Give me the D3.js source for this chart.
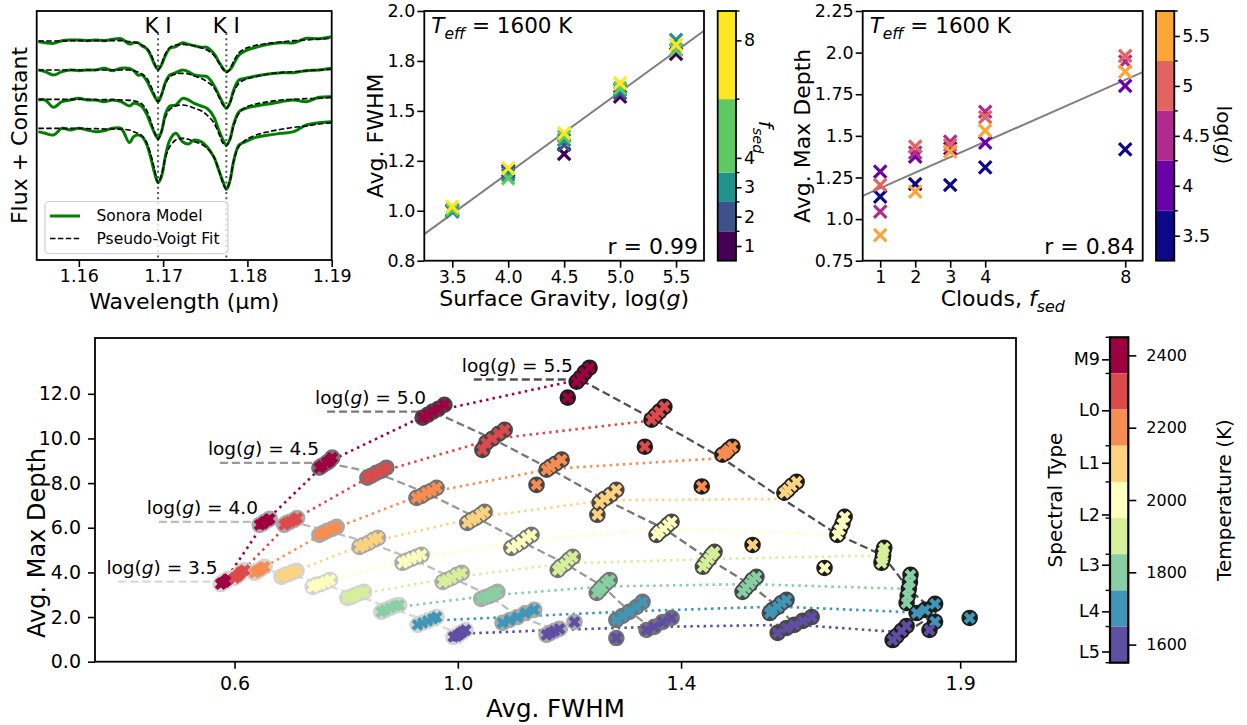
<!DOCTYPE html>
<html><head><meta charset="utf-8">
<script src="https://cdn.jsdelivr.net/npm/d3@7/dist/d3.min.js"></script>
<style>
html,body{margin:0;padding:0;background:#fff;}
svg text{font-family:"DejaVu Sans",sans-serif;}
</style></head>
<body>
<svg id="chart" width="1247" height="725" xmlns="http://www.w3.org/2000/svg"></svg>
<script>
// ================= DATA =================
// Panel A: K I doublet spectra (flux + constant)
const wave = [1.1552,1.1560,1.1570,1.1580,1.1590,1.1600,1.1610,1.1620,1.1630,1.1640,1.1650,1.1660,1.1665,1.1670,1.1675,1.1680,1.1685,1.1690,1.1694,1.1698,1.1703,1.1708,1.1715,1.1723,1.1730,1.1737,1.1745,1.1752,1.1760,1.1766,1.1771,1.1775,1.1779,1.1784,1.1790,1.1798,1.1810,1.1825,1.1840,1.1855,1.1870,1.1885,1.1900];
const model1 = [6.55,6.52,6.50,6.58,6.60,6.60,6.58,6.60,6.58,6.62,6.64,6.48,6.52,6.52,6.42,6.35,6.15,5.85,5.72,5.85,6.15,6.35,6.40,6.52,6.47,6.43,6.38,6.38,6.20,5.95,5.75,5.65,5.70,5.90,6.15,6.28,6.38,6.47,6.52,6.52,6.65,6.64,6.70];
const fit1   = [6.57,6.57,6.57,6.57,6.58,6.58,6.58,6.58,6.58,6.58,6.58,6.55,6.53,6.50,6.45,6.38,6.20,5.90,5.70,5.88,6.20,6.38,6.45,6.47,6.45,6.42,6.37,6.30,6.15,5.92,5.72,5.62,5.72,5.98,6.22,6.35,6.44,6.50,6.54,6.58,6.60,6.63,6.65];
const model2 = [5.70,5.65,5.55,5.65,5.70,5.68,5.70,5.70,5.75,5.68,5.75,5.75,5.68,5.55,5.55,5.40,5.15,4.90,4.75,4.95,5.35,5.55,5.62,5.70,5.65,5.55,5.52,5.50,5.25,4.95,4.70,4.55,4.70,5.12,5.40,5.45,5.52,5.58,5.62,5.62,5.68,5.70,5.75];
const fit2   = [5.70,5.70,5.70,5.70,5.70,5.70,5.70,5.70,5.70,5.70,5.70,5.70,5.68,5.64,5.58,5.48,5.25,4.95,4.75,4.95,5.30,5.50,5.58,5.60,5.58,5.52,5.45,5.35,5.18,4.90,4.65,4.55,4.70,5.05,5.30,5.42,5.50,5.58,5.62,5.65,5.68,5.70,5.72];
const model3 = [4.80,4.80,4.58,4.75,4.80,4.85,4.80,4.80,4.75,4.80,4.75,4.62,4.70,4.68,4.60,4.40,4.10,3.80,3.65,3.85,4.40,4.62,4.65,4.85,4.80,4.70,4.62,4.55,4.30,3.90,3.60,3.45,3.60,4.10,4.45,4.55,4.62,4.68,4.75,4.80,4.75,4.88,4.90];
const fit3   = [4.82,4.82,4.82,4.82,4.82,4.82,4.82,4.81,4.81,4.81,4.80,4.79,4.78,4.75,4.68,4.52,4.20,3.80,3.62,3.85,4.30,4.52,4.62,4.65,4.62,4.55,4.48,4.35,4.12,3.80,3.50,3.42,3.60,4.05,4.40,4.58,4.68,4.75,4.80,4.82,4.84,4.85,4.88];
const model4 = [3.85,3.80,3.75,3.95,3.90,3.95,3.90,3.85,3.88,3.95,3.95,3.52,3.70,3.75,3.70,3.50,3.10,2.60,2.32,2.50,3.15,3.60,3.80,3.55,3.48,3.60,3.55,3.40,3.10,2.70,2.35,2.12,2.35,3.00,3.45,3.55,3.68,3.75,3.80,3.85,4.05,4.12,4.15];
const fit4   = [3.95,3.95,3.95,3.95,3.95,3.95,3.94,3.94,3.93,3.93,3.92,3.90,3.85,3.80,3.72,3.55,3.20,2.70,2.32,2.55,3.10,3.40,3.60,3.65,3.62,3.55,3.48,3.35,3.10,2.70,2.30,2.12,2.35,3.00,3.40,3.60,3.75,3.85,3.92,3.98,4.02,4.08,4.12];
const kLines = [1.1694, 1.1775];
const kLabel = "K I";
const wavTicks = [1.16, 1.17, 1.18, 1.19];
const legendLabels = ["Sonora Model", "Pseudo-Voigt Fit"];

// Panel B: Avg FWHM vs log(g), coloured by fsed (Teff = 1600 K)
const loggB = [3.5, 4.0, 4.5, 5.0, 5.5];
const fsedVals = [1, 2, 3, 4, 8];
const fwhmB_f1 = [1.040, 1.233, 1.313, 1.588, 1.794];
const fwhmB_f2 = [1.044, 1.223, 1.356, 1.605, 1.813];
const fwhmB_f3 = [1.036, 1.212, 1.380, 1.621, 1.861];
const fwhmB_f4 = [1.047, 1.196, 1.396, 1.629, 1.813];
const fwhmB_f8 = [1.060, 1.244, 1.413, 1.653, 1.837];
const yTicksB = [0.8, 1.04, 1.28, 1.52, 1.76, 2.0];
const yTickLabelsB = ["0.8", "1.0", "1.2", "1.5", "1.8", "2.0"];
const fsedBounds = [0.5, 1.5, 2.5, 3.5, 6, 9];

// Panel C: Avg Max Depth vs fsed, coloured by log(g) (Teff = 1600 K)
const loggC = [3.5, 4.0, 4.5, 5.0, 5.5];
const depthC_g35 = [1.135, 1.211, 1.205, 1.311, 1.419];
const depthC_g40 = [1.285, 1.375, 1.425, 1.459, 1.800];
const depthC_g45 = [1.045, 1.399, 1.465, 1.645, 1.946];
const depthC_g50 = [1.205, 1.435, 1.445, 1.612, 1.980];
const depthC_g55 = [0.904, 1.165, 1.405, 1.531, 1.886];
const yTicksC = [0.75, 1.0, 1.25, 1.5, 1.75, 2.0, 2.25];
const yTickLabelsC = ["0.75", "1.0", "1.25", "1.5", "1.75", "2.0", "2.25"];
const loggTickLabelsC = ["3.5", "4", "4.5", "5", "5.5"];
const loggBounds = [3.25, 3.75, 4.25, 4.75, 5.25, 5.75];

// Panel D: Avg Max Depth vs Avg FWHM; rows = Teff (2400..1600), cols = fsed (1,2,3,4,8)
const temps = [2400, 2300, 2200, 2100, 2000, 1900, 1800, 1700, 1600];
const loggD = [3.5, 4.0, 4.5, 5.0, 5.5];
const fwhm_g35 = [
 [0.575,0.578,0.582,0.586,0.589],[0.600,0.605,0.609,0.612,0.618],[0.636,0.641,0.645,0.650,0.654],
 [0.684,0.691,0.698,0.705,0.711],[0.740,0.747,0.754,0.763,0.771],[0.802,0.809,0.816,0.825,0.832],
 [0.863,0.870,0.879,0.888,0.895],[0.928,0.937,0.946,0.955,0.962],[0.992,0.998,1.003,1.008,1.014]];
const depth_g35 = [
 [3.48,3.53,3.57,3.66,3.71],[3.75,3.84,3.93,4.02,4.11],[3.98,4.07,4.11,4.20,4.25],
 [3.80,3.89,3.93,4.02,4.07],[3.35,3.44,3.48,3.57,3.66],[2.86,2.90,2.99,3.08,3.13],
 [2.23,2.32,2.41,2.50,2.54],[1.65,1.74,1.83,1.92,2.00],[1.11,1.15,1.24,1.33,1.42]];
const fwhm_g40 = [
 [0.645,0.650,0.654,0.660,0.663],[0.689,0.694,0.700,0.707,0.712],[0.752,0.759,0.766,0.775,0.783],
 [0.824,0.831,0.840,0.849,0.857],[0.901,0.908,0.917,0.926,0.935],[0.973,0.980,0.989,0.998,1.007],
 [1.042,1.050,1.057,1.064,1.071],[1.080,1.093,1.107,1.121,1.137],[1.159,1.166,1.173,1.182,1.209]];
const depth_g40 = [
 [6.13,6.18,6.27,6.35,6.40],[6.13,6.22,6.27,6.35,6.44],[5.68,5.77,5.86,5.95,6.04],
 [5.14,5.23,5.32,5.46,5.55],[4.43,4.52,4.61,4.70,4.79],[3.57,3.66,3.75,3.89,3.98],
 [2.81,2.90,2.95,3.04,3.13],[1.74,1.87,2.00,2.18,2.32],[1.20,1.29,1.38,1.47,1.78]];
const fwhm_g45 = [
 [0.752,0.757,0.765,0.770,0.775],[0.838,0.845,0.854,0.863,0.872],[0.926,0.935,0.944,0.953,0.962],
 [1.017,1.025,1.032,1.041,1.048],[1.096,1.105,1.114,1.123,1.132],[1.179,1.184,1.192,1.199,1.206],
 [1.249,1.254,1.259,1.266,1.272],[1.284,1.295,1.307,1.320,1.331],[1.284,1.338,1.352,1.367,1.383]];
const depth_g45 = [
 [8.69,8.78,8.91,9.00,9.14],[8.24,8.33,8.46,8.55,8.69],[7.34,7.43,7.57,7.66,7.79],
 [6.22,6.35,6.44,6.58,6.71],[5.10,5.23,5.37,5.55,5.68],[4.11,4.25,4.38,4.56,4.70],
 [3.08,3.22,3.35,3.53,3.66],[1.87,2.05,2.23,2.45,2.68],[1.06,1.42,1.56,1.78,1.96]];
const fwhm_g50 = [
 [0.937,0.946,0.955,0.965,0.976],[1.044,1.051,1.062,1.073,1.084],[1.141,1.159,1.166,1.175,1.186],
 [1.250,1.254,1.263,1.274,1.284],[1.356,1.361,1.369,1.376,1.383],[1.439,1.444,1.450,1.455,1.460],
 [1.510,1.516,1.523,1.528,1.535],[1.559,1.564,1.573,1.580,1.589],[1.573,1.589,1.603,1.618,1.634]];
const depth_g50 = [
 [10.93,11.06,11.20,11.33,11.51],[9.49,9.81,9.99,10.21,10.39],[7.92,8.60,8.73,8.87,9.05],
 [6.58,7.12,7.30,7.48,7.70],[5.68,5.82,5.95,6.13,6.27],[4.25,4.43,4.61,4.79,4.92],
 [3.13,3.31,3.48,3.66,3.80],[2.18,2.32,2.45,2.63,2.77],[1.29,1.51,1.65,1.83,2.00]];
const fwhm_g55 = [
 [1.197,1.213,1.220,1.227,1.236],[1.335,1.347,1.354,1.361,1.370],[1.437,1.474,1.480,1.485,1.492],
 [1.528,1.585,1.591,1.598,1.607],[1.657,1.680,1.684,1.689,1.693],[1.759,1.761,1.762,1.762,1.764],
 [1.804,1.806,1.808,1.810,1.811],[1.822,1.837,1.855,1.855,1.917],[1.779,1.786,1.795,1.804,1.845]];
const depth_g55 = [
 [11.83,12.54,12.72,12.95,13.17],[9.63,10.84,11.02,11.20,11.42],[7.85,9.27,9.36,9.49,9.63],
 [5.23,7.57,7.70,7.88,8.06],[4.20,5.68,5.91,6.18,6.49],[4.43,4.61,4.74,4.92,5.10],
 [2.63,2.95,3.26,3.57,3.89],[2.18,2.32,2.59,1.79,1.96],[0.97,1.15,1.38,1.60,1.42]];
const xTicksD = [0.6, 1.0, 1.4, 1.9];
const xTickLabelsD = ["0.6", "1.0", "1.4", "1.9"];
const yTicksD = [0, 2, 4, 6, 8, 10, 12];
const yTickLabelsD = ["0.0", "2.0", "4.0", "6.0", "8.0", "10.0", "12.0"];
const specTypes = ["M9", "L0", "L1", "L2", "L3", "L4", "L5"];
const specTemps = [2389, 2248, 2103, 1960, 1821, 1692, 1581];
const tempTicks = [1600, 1800, 2000, 2200, 2400];
const tempBounds = [1550, 1650, 1750, 1850, 1950, 2050, 2150, 2250, 2350, 2450];

// ================= STYLE =================
const tempColors = ["#9e0142","#dd4a4c","#f88d52","#fed380","#ffffbf","#d7ef9b","#88cfa4","#3f96b7","#5e4fa2"];
const fsedColors = ["#440154","#3b528b","#21918c","#5ec962","#fde725"];
const loggColors = ["#0d0887","#6a00a8","#b12a90","#e16462","#fca636"];
const loggCircle = ["#d3d3d3","#a9a9a9","#747474","#474747","#1e1e1e"];
const loggLine = ["#d9d9d9","#bdbdbd","#999999","#777777","#505050"];

// ================= HELPERS =================
const svg = d3.select("#chart");
function rich(parent, x, y, parts, fs, anchor, rot) {
  const t = parent.append("text").attr("font-size", fs).attr("text-anchor", anchor || "start").attr("fill", "#000");
  if (rot) t.attr("transform", `translate(${x},${y}) rotate(${rot})`);
  else t.attr("x", x).attr("y", y);
  t.attr("dy", "0.35em");
  let shift = 0;
  parts.forEach(p => {
    const s = t.append("tspan").text(p.t);
    if (p.it) s.attr("font-style", "italic");
    const want = p.sub ? fs * 0.28 : 0;
    if (want !== shift) { s.attr("dy", want - shift); shift = want; }
    if (p.sub) s.attr("font-size", fs * 0.72);
  });
  return t;
}
function axisStyle(g, fs) {
  g.select(".domain").remove();
  g.selectAll(".tick line").attr("stroke", "#000").attr("stroke-width", 1.6);
  g.selectAll(".tick text").attr("font-size", fs).attr("fill", "#000").attr("font-family", "DejaVu Sans, sans-serif");
}
function frame(p) {
  svg.append("rect").attr("x", p.l).attr("y", p.t).attr("width", p.r - p.l).attr("height", p.b - p.t)
    .attr("fill", "none").attr("stroke", "#000").attr("stroke-width", 1.8);
}
function clip(id, p) {
  svg.append("clipPath").attr("id", id).append("rect")
    .attr("x", p.l).attr("y", p.t).attr("width", p.r - p.l).attr("height", p.b - p.t);
}
function xMark(g, x, y, color, half) {
  g.append("path").attr("d", `M${x-half},${y-half}L${x+half},${y+half}M${x-half},${y+half}L${x+half},${y-half}`)
    .attr("stroke", color).attr("stroke-width", 3.2).attr("fill", "none");
}
function regress(xs, ys) {
  const mx = d3.mean(xs), my = d3.mean(ys);
  let sxy = 0, sxx = 0;
  xs.forEach((x, i) => { sxy += (x - mx) * (ys[i] - my); sxx += (x - mx) * (x - mx); });
  const b = sxy / sxx; return { a: my - b * mx, b };
}

// ================= PANEL A =================
const PA = { l: 36.7, r: 331.7, t: 11, b: 260 };
const xA = d3.scaleLinear().domain([1.155, 1.19]).range([PA.l, PA.r]);
const yA = d3.scaleLinear().domain([0, 7.47]).range([PA.b, PA.t]);
clip("clipA", PA);
const gA = svg.append("g").attr("clip-path", "url(#clipA)");
kLines.forEach(k => gA.append("line").attr("x1", xA(k)).attr("x2", xA(k)).attr("y1", PA.t + 22).attr("y2", PA.b)
  .attr("stroke", "#555").attr("stroke-width", 2).attr("stroke-dasharray", "2,3.3"));
const models = [model1, model2, model3, model4], fits = [fit1, fit2, fit3, fit4];
const lineA = d3.line().x((d, i) => xA(wave[i])).y(d => yA(d)).curve(d3.curveCatmullRom.alpha(0.5));
models.forEach(m => gA.append("path").attr("d", lineA(m)).attr("fill", "none").attr("stroke", "#008000").attr("stroke-width", 3));
fits.forEach(f => gA.append("path").attr("d", lineA(f)).attr("fill", "none").attr("stroke", "#000").attr("stroke-width", 1.6).attr("stroke-dasharray", "5.5,2.4"));
kLines.forEach(k => svg.append("text").attr("x", xA(k)).attr("y", 25).attr("dy", "0.35em").attr("text-anchor", "middle")
  .attr("font-size", 21.5).text(kLabel));
// legend
const lg = svg.append("g");
lg.append("rect").attr("x", 45).attr("y", 201.5).attr("width", 183).attr("height", 52).attr("rx", 4)
  .attr("fill", "#fff").attr("fill-opacity", 0.8).attr("stroke", "#d0d0d0").attr("stroke-width", 1.2);
lg.append("line").attr("x1", 50).attr("x2", 80).attr("y1", 216).attr("y2", 216).attr("stroke", "#008000").attr("stroke-width", 3);
lg.append("line").attr("x1", 50).attr("x2", 80).attr("y1", 238.5).attr("y2", 238.5).attr("stroke", "#000").attr("stroke-width", 1.6).attr("stroke-dasharray", "5.5,2.4");
lg.append("text").attr("x", 96.5).attr("y", 216).attr("dy", "0.35em").attr("font-size", 15.5).text(legendLabels[0]);
lg.append("text").attr("x", 96.5).attr("y", 238.5).attr("dy", "0.35em").attr("font-size", 15.5).text(legendLabels[1]);
const axA = svg.append("g").attr("transform", `translate(0,${PA.b})`)
  .call(d3.axisBottom(xA).tickValues(wavTicks).tickFormat(d3.format(".2f")).tickSize(7).tickPadding(3));
axisStyle(axA, 17.5);
frame(PA);
rich(svg, (PA.l + PA.r) / 2, 301, [{ t: "Wavelength (µm)" }], 22, "middle");
rich(svg, 19, (PA.t + PA.b) / 2, [{ t: "Flux + Constant" }], 22, "middle", -90);

// ================= PANEL B =================
const PB = { l: 424.3, r: 704, t: 11, b: 260.7 };
const xB = d3.scaleLinear().domain([3.25, 5.75]).range([PB.l, PB.r]);
const yB = d3.scaleLinear().domain([0.8, 2.0]).range([PB.b, PB.t]);
clip("clipB", PB);
const gB = svg.append("g").attr("clip-path", "url(#clipB)");
const fwhmB = [fwhmB_f1, fwhmB_f2, fwhmB_f3, fwhmB_f4, fwhmB_f8];
const allXB = [], allYB = [];
fwhmB.forEach(arr => arr.forEach((v, i) => { allXB.push(loggB[i]); allYB.push(v); }));
const regB = regress(allXB, allYB);
gB.append("line").attr("x1", xB(3.25)).attr("y1", yB(regB.a + regB.b * 3.25)).attr("x2", xB(5.75)).attr("y2", yB(regB.a + regB.b * 5.75))
  .attr("stroke", "#808080").attr("stroke-width", 2);
fwhmB.forEach((arr, fi) => arr.forEach((v, i) => xMark(gB, xB(loggB[i]), yB(v), fsedColors[fi], 6.2)));
const axBx = svg.append("g").attr("transform", `translate(0,${PB.b})`)
  .call(d3.axisBottom(xB).tickValues(loggB).tickFormat(d3.format(".1f")).tickSize(7).tickPadding(3));
axisStyle(axBx, 17.5);
const axBy = svg.append("g").attr("transform", `translate(${PB.l},0)`)
  .call(d3.axisLeft(yB).tickValues(yTicksB).tickFormat((d, i) => yTickLabelsB[i]).tickSize(7).tickPadding(2));
axisStyle(axBy, 17.5);
frame(PB);
rich(svg, PB.l + 7, 25, [{ t: "T", it: 1 }, { t: "eff", it: 1, sub: 1 }, { t: " = 1600 K" }], 21.5, "start");
rich(svg, PB.r - 6, 246.5, [{ t: "r = 0.99" }], 22, "end");
rich(svg, (PB.l + PB.r) / 2, 298, [{ t: "Surface Gravity, log(" }, { t: "g", it: 1 }, { t: ")" }], 22, "middle");
rich(svg, 375, (PB.t + PB.b) / 2, [{ t: "Avg. FWHM" }], 22, "middle", -90);
// colorbar B
const CB = { l: 717.7, r: 736, t: 11, b: 260.7 };
const yCB = d3.scaleLinear().domain([0.5, 9]).range([CB.b, CB.t]);
fsedColors.forEach((c, i) => svg.append("rect").attr("x", CB.l).attr("width", CB.r - CB.l)
  .attr("y", yCB(fsedBounds[i + 1])).attr("height", yCB(fsedBounds[i]) - yCB(fsedBounds[i + 1])).attr("fill", c));
const axCB = svg.append("g").attr("transform", `translate(${CB.r},0)`)
  .call(d3.axisRight(yCB).tickValues(fsedVals).tickFormat(d3.format("d")).tickSize(5.5).tickPadding(2.5));
axisStyle(axCB, 17.5);
fsedBounds.slice(1).forEach(v => svg.append("line").attr("x1", CB.r).attr("x2", CB.r + 3.5).attr("y1", yCB(v)).attr("y2", yCB(v)).attr("stroke", "#000").attr("stroke-width", 1.4));
frame(CB);
rich(svg, 766, 137, [{ t: "f", it: 1 }, { t: "sed", it: 1, sub: 1 }], 20, "middle", 90);

// ================= PANEL C =================
const PC = { l: 862.7, r: 1142.7, t: 11, b: 260.7 };
const xC = d3.scaleLinear().domain([0.5, 8.5]).range([PC.l, PC.r]);
const yC = d3.scaleLinear().domain([0.75, 2.25]).range([PC.b, PC.t]);
clip("clipC", PC);
const gC = svg.append("g").attr("clip-path", "url(#clipC)");
const depthC = [depthC_g35, depthC_g40, depthC_g45, depthC_g50, depthC_g55];
const allXC = [], allYC = [];
depthC.forEach(arr => arr.forEach((v, i) => { allXC.push(fsedVals[i]); allYC.push(v); }));
const regC = regress(allXC, allYC);
gC.append("line").attr("x1", xC(0.5)).attr("y1", yC(regC.a + regC.b * 0.5)).attr("x2", xC(8.5)).attr("y2", yC(regC.a + regC.b * 8.5))
  .attr("stroke", "#808080").attr("stroke-width", 2);
depthC.forEach((arr, gi) => arr.forEach((v, i) => xMark(gC, xC(fsedVals[i]), yC(v), loggColors[gi], 6.2)));
const axCx = svg.append("g").attr("transform", `translate(0,${PC.b})`)
  .call(d3.axisBottom(xC).tickValues(fsedVals).tickFormat(d3.format("d")).tickSize(7).tickPadding(3));
axisStyle(axCx, 17.5);
const axCy = svg.append("g").attr("transform", `translate(${PC.l},0)`)
  .call(d3.axisLeft(yC).tickValues(yTicksC).tickFormat((d, i) => yTickLabelsC[i]).tickSize(7).tickPadding(2));
axisStyle(axCy, 17.5);
frame(PC);
rich(svg, PC.l + 7, 25, [{ t: "T", it: 1 }, { t: "eff", it: 1, sub: 1 }, { t: " = 1600 K" }], 21.5, "start");
rich(svg, PC.r - 8, 246.5, [{ t: "r = 0.84" }], 22, "end");
rich(svg, (PC.l + PC.r) / 2, 298, [{ t: "Clouds, " }, { t: "f", it: 1 }, { t: "sed", it: 1, sub: 1 }], 22, "middle");
rich(svg, 802, (PC.t + PC.b) / 2, [{ t: "Avg. Max Depth" }], 22, "middle", -90);
// colorbar C
const CC = { l: 1156, r: 1174.3, t: 11, b: 260.7 };
const yCC = d3.scaleLinear().domain([3.25, 5.75]).range([CC.b, CC.t]);
loggColors.forEach((c, i) => svg.append("rect").attr("x", CC.l).attr("width", CC.r - CC.l)
  .attr("y", yCC(loggBounds[i + 1])).attr("height", yCC(loggBounds[i]) - yCC(loggBounds[i + 1])).attr("fill", c));
const axCC = svg.append("g").attr("transform", `translate(${CC.r},0)`)
  .call(d3.axisRight(yCC).tickValues(loggC).tickFormat((d, i) => loggTickLabelsC[i]).tickSize(5.5).tickPadding(2.5));
axisStyle(axCC, 17.5);
loggBounds.slice(1).forEach(v => svg.append("line").attr("x1", CC.r).attr("x2", CC.r + 3.5).attr("y1", yCC(v)).attr("y2", yCC(v)).attr("stroke", "#000").attr("stroke-width", 1.4));
frame(CC);
rich(svg, 1224, 135, [{ t: "log(" }, { t: "g", it: 1 }, { t: ")" }], 20, "middle", 90);

// ================= PANEL D =================
const PD = { l: 95, r: 1016, t: 338, b: 661.7 };
const xD = d3.scaleLinear().domain([0.35, 2.0]).range([PD.l, PD.r]);
const yD = d3.scaleLinear().domain([0, 14.5]).range([PD.b, PD.t]);
clip("clipD", PD);
const gD = svg.append("g").attr("clip-path", "url(#clipD)");
const fwhmD = [fwhm_g35, fwhm_g40, fwhm_g45, fwhm_g50, fwhm_g55];
const depthD = [depth_g35, depth_g40, depth_g45, depth_g50, depth_g55];
const means = loggD.map((g, gi) => temps.map((T, ti) => [d3.mean(fwhmD[gi][ti]), d3.mean(depthD[gi][ti])]));
const lineD = d3.line().x(d => xD(d[0])).y(d => yD(d[1]));
const labelLead = 0.19;
// dotted lines: same temperature across log(g)
temps.forEach((T, ti) => gD.append("path").attr("d", lineD(loggD.map((g, gi) => means[gi][ti])))
  .attr("fill", "none").attr("stroke", tempColors[ti]).attr("stroke-width", 2.6).attr("stroke-dasharray", "2.5,4.1"));
// dashed lines: same log(g) across temperature
loggD.forEach((g, gi) => {
  const pts = [[means[gi][0][0] - labelLead, means[gi][0][1]]].concat(means[gi]);
  gD.append("path").attr("d", lineD(pts)).attr("fill", "none").attr("stroke", loggLine[gi])
    .attr("stroke-width", 2.3).attr("stroke-dasharray", "8,4");
});
// circles
loggD.forEach((g, gi) => temps.forEach((T, ti) => fwhmD[gi][ti].forEach((x, fi) =>
  gD.append("circle").attr("cx", xD(x)).attr("cy", yD(depthD[gi][ti][fi])).attr("r", 8.3).attr("fill", loggCircle[gi]))));
// X markers
const xSym = d3.symbol(d3.symbolCross, 88)();
loggD.forEach((g, gi) => temps.forEach((T, ti) => fwhmD[gi][ti].forEach((x, fi) =>
  gD.append("path").attr("d", xSym).attr("fill", tempColors[ti])
    .attr("transform", `translate(${xD(x)},${yD(depthD[gi][ti][fi])}) rotate(45)`))));
// log(g) labels
loggD.forEach((g, gi) => {
  rich(svg, xD(means[gi][0][0]) - 7, yD(means[gi][0][1]) - 14, [{ t: "log(" }, { t: "g", it: 1 }, { t: ") = " + d3.format(".1f")(g) }], 18.5, "end");
});
const axDx = svg.append("g").attr("transform", `translate(0,${PD.b})`)
  .call(d3.axisBottom(xD).tickValues(xTicksD).tickFormat((d, i) => xTickLabelsD[i]).tickSize(7).tickPadding(8));
axisStyle(axDx, 19);
const axDy = svg.append("g").attr("transform", `translate(${PD.l},0)`)
  .call(d3.axisLeft(yD).tickValues(yTicksD).tickFormat((d, i) => yTickLabelsD[i]).tickSize(7).tickPadding(7));
axisStyle(axDy, 19);
frame(PD);
rich(svg, (PD.l + PD.r) / 2, 708, [{ t: "Avg. FWHM" }], 24.5, "middle");
rich(svg, 37, 543, [{ t: "Avg. Max Depth" }], 24, "middle", -90);
// colorbar D
const CD = { l: 1110, r: 1128.3, t: 337.3, b: 662.7 };
const yCD = d3.scaleLinear().domain([1550, 2450]).range([CD.b, CD.t]);
temps.forEach((T, ti) => svg.append("rect").attr("x", CD.l).attr("width", CD.r - CD.l)
  .attr("y", yCD(T + 50)).attr("height", yCD(T - 50) - yCD(T + 50)).attr("fill", tempColors[ti]));
const axCDr = svg.append("g").attr("transform", `translate(${CD.r},0)`)
  .call(d3.axisRight(yCD).tickValues(tempTicks).tickFormat(d3.format("d")).tickSize(8).tickPadding(10));
axisStyle(axCDr, 16);
const axCDl = svg.append("g").attr("transform", `translate(${CD.l},0)`)
  .call(d3.axisLeft(yCD).tickValues(specTemps).tickFormat((d, i) => specTypes[i]).tickSize(8).tickPadding(2));
axisStyle(axCDl, 17.5);
tempBounds.filter(v => v !== 2250).forEach(v => svg.append("line").attr("x1", CD.l).attr("x2", CD.l - 4.5)
  .attr("y1", yCD(v)).attr("y2", yCD(v)).attr("stroke", "#000").attr("stroke-width", 1.4));
svg.append("rect").attr("x", CD.l).attr("y", CD.t).attr("width", CD.r - CD.l).attr("height", CD.b - CD.t)
  .attr("fill", "none").attr("stroke", "#000").attr("stroke-width", 2.2);
rich(svg, 1055, 500, [{ t: "Spectral Type" }], 20, "middle", -90);
rich(svg, 1224, 500, [{ t: "Temperature (K)" }], 20, "middle", -90);
</script>
</body></html>
